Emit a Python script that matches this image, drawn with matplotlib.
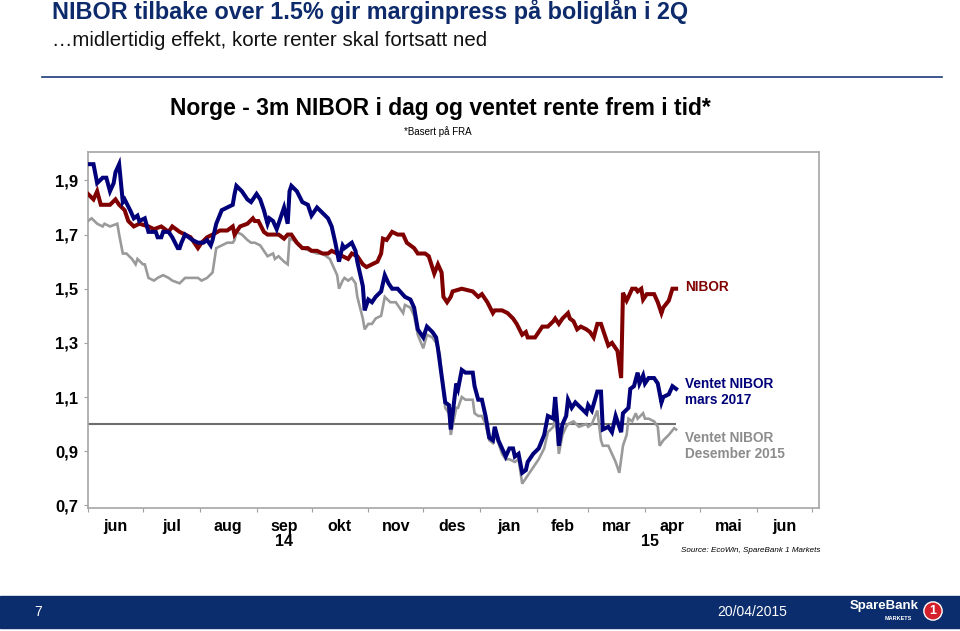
import matplotlib
matplotlib.use("Agg")
import matplotlib.pyplot as plt
import pandas as pd
from matplotlib.ticker import FuncFormatter

START = pd.Timestamp("2014-06-01")

# 3m NIBOR (dager etter 1. juni 2014, prosent)
nibor_dag = [0, 3, 5, 7, 9, 12, 15, 17, 20, 22, 25, 28, 33, 36, 40, 44, 46, 50, 53, 56,
             60, 62, 65, 68, 72, 76, 79, 80, 83, 87, 90, 91, 93, 96, 98, 101, 104, 107, 109, 111,
             114, 117, 120, 122, 125, 128, 131, 133, 136, 139, 142, 144, 147, 150, 152, 155, 158, 160, 161, 163,
             166, 169, 172, 174, 178, 180, 184, 186, 189, 191, 193, 194, 196, 198, 199, 204, 210, 213, 215, 218,
             221, 222, 226, 229, 232, 234, 237, 239, 240, 244, 246, 248, 251, 254, 255, 257, 259, 262, 263, 265,
             267, 269, 272, 274, 276, 278, 280, 281, 284, 286, 289, 291, 292, 294, 295, 297, 299, 300, 302, 303,
             305, 309, 311, 313, 314, 317, 319, 321]
nibor = [1.85, 1.83, 1.86, 1.81, 1.81, 1.81, 1.83, 1.81, 1.79, 1.75, 1.73, 1.74, 1.73, 1.72, 1.73, 1.71, 1.73, 1.71, 1.70, 1.69,
         1.65, 1.67, 1.69, 1.70, 1.715, 1.715, 1.73, 1.70, 1.73, 1.74, 1.76, 1.75, 1.75, 1.71, 1.70, 1.70, 1.70, 1.685, 1.70, 1.70,
         1.67, 1.65, 1.65, 1.64, 1.64, 1.63, 1.63, 1.64, 1.63, 1.62, 1.61, 1.63, 1.62, 1.59, 1.58, 1.59, 1.60, 1.63, 1.685, 1.68,
         1.71, 1.70, 1.70, 1.67, 1.65, 1.63, 1.63, 1.62, 1.556, 1.59, 1.56, 1.47, 1.45, 1.47, 1.49, 1.50, 1.49, 1.47, 1.48, 1.45,
         1.41, 1.42, 1.42, 1.41, 1.39, 1.37, 1.33, 1.34, 1.32, 1.32, 1.34, 1.36, 1.36, 1.38, 1.39, 1.37, 1.39, 1.41, 1.39, 1.38,
         1.35, 1.36, 1.35, 1.34, 1.32, 1.37, 1.37, 1.35, 1.29, 1.30, 1.27, 1.17, 1.485, 1.456, 1.47, 1.50, 1.50, 1.49, 1.50, 1.46,
         1.48, 1.48, 1.45, 1.41, 1.43, 1.456, 1.50, 1.50]

# Ventet NIBOR mars 2017 (basert på FRA)
mars17_dag = [0, 3, 5, 8, 10, 12, 14, 15, 17, 19, 20, 23, 25, 27, 28, 31, 33, 37, 38, 40,
              41, 44, 46, 49, 50, 51, 53, 57, 60, 63, 65, 67, 68, 70, 73, 76, 79, 80, 81, 84,
              87, 89, 90, 92, 94, 96, 98, 99, 101, 103, 105, 107, 109, 110, 111, 114, 117, 120, 122, 125,
              128, 131, 133, 135, 137, 139, 140, 142, 144, 146, 147, 150, 151, 153, 155, 157, 160, 162, 164, 166,
              169, 173, 176, 178, 180, 181, 183, 185, 188, 190, 191, 193, 195, 197, 198, 201, 202, 204, 206, 210,
              211, 213, 215, 217, 219, 221, 222, 224, 226, 228, 230, 232, 233, 235, 237, 239, 240, 243, 246, 249,
              251, 254, 255, 256, 257, 259, 261, 262, 264, 266, 269, 272, 273, 275, 278, 280, 281, 284, 286, 288,
              291, 292, 295, 296, 298, 300, 301, 303, 304, 306, 309, 311, 313, 314, 317, 319, 321]
mars17 = [1.96, 1.96, 1.89, 1.91, 1.91, 1.86, 1.89, 1.93, 1.96, 1.82, 1.83, 1.79, 1.76, 1.77, 1.75, 1.76, 1.71, 1.71, 1.69, 1.69,
          1.71, 1.71, 1.69, 1.65, 1.65, 1.67, 1.70, 1.68, 1.67, 1.67, 1.68, 1.66, 1.68, 1.74, 1.79, 1.80, 1.81, 1.85, 1.88, 1.86,
          1.83, 1.82, 1.83, 1.85, 1.83, 1.79, 1.74, 1.76, 1.75, 1.72, 1.76, 1.80, 1.74, 1.86, 1.88, 1.86, 1.82, 1.81, 1.77, 1.80,
          1.78, 1.76, 1.73, 1.67, 1.60, 1.66, 1.65, 1.66, 1.67, 1.64, 1.60, 1.51, 1.42, 1.46, 1.45, 1.47, 1.49, 1.55, 1.52, 1.50,
          1.50, 1.47, 1.46, 1.43, 1.35, 1.34, 1.32, 1.36, 1.34, 1.32, 1.28, 1.18, 1.08, 1.07, 0.98, 1.15, 1.13, 1.20, 1.19, 1.19,
          1.14, 1.09, 1.09, 1.03, 0.95, 0.94, 0.99, 0.94, 0.91, 0.88, 0.91, 0.91, 0.88, 0.89, 0.82, 0.83, 0.86, 0.89, 0.91, 0.96,
          1.03, 1.02, 1.10, 1.02, 0.92, 1.00, 1.03, 1.09, 1.06, 1.08, 1.06, 1.04, 1.07, 1.05, 1.12, 1.12, 0.98, 0.99, 0.97, 1.03,
          0.97, 1.04, 1.06, 1.13, 1.14, 1.19, 1.15, 1.18, 1.15, 1.17, 1.17, 1.15, 1.08, 1.10, 1.11, 1.14, 1.13]

# Ventet NIBOR desember 2015
des15_dag = [0, 2, 5, 8, 9, 12, 16, 17, 19, 21, 24, 26, 27, 30, 31, 33, 36, 38, 41, 44,
             46, 50, 53, 60, 62, 65, 68, 70, 73, 76, 79, 80, 81, 84, 87, 89, 91, 94, 97, 98,
             101, 102, 104, 107, 109, 110, 112, 115, 117, 121, 125, 128, 132, 134, 136, 137, 139, 140, 142, 144,
             146, 147, 150, 151, 153, 155, 157, 160, 162, 165, 168, 170, 172, 173, 176, 178, 180, 183, 185, 188,
             190, 192, 193, 195, 197, 198, 201, 202, 204, 206, 210, 211, 213, 215, 217, 219, 221, 222, 224, 226,
             228, 230, 233, 235, 237, 239, 240, 243, 246, 249, 251, 254, 255, 256, 257, 259, 261, 262, 265, 268,
             272, 273, 275, 278, 280, 281, 284, 286, 288, 290, 292, 294, 295, 297, 299, 300, 303, 304, 306, 309,
             311, 312, 314, 317, 320, 321]
des15 = [1.75, 1.76, 1.74, 1.73, 1.74, 1.73, 1.74, 1.70, 1.63, 1.63, 1.61, 1.59, 1.61, 1.59, 1.59, 1.54, 1.53, 1.54, 1.55, 1.54,
         1.53, 1.52, 1.54, 1.54, 1.53, 1.54, 1.56, 1.65, 1.66, 1.67, 1.67, 1.68, 1.71, 1.70, 1.68, 1.67, 1.67, 1.66, 1.63, 1.62,
         1.63, 1.61, 1.62, 1.60, 1.59, 1.685, 1.68, 1.66, 1.65, 1.64, 1.63, 1.63, 1.61, 1.58, 1.55, 1.50, 1.53, 1.54, 1.53, 1.54,
         1.52, 1.47, 1.39, 1.35, 1.37, 1.37, 1.39, 1.40, 1.47, 1.45, 1.45, 1.43, 1.41, 1.44, 1.43, 1.40, 1.33, 1.28, 1.33, 1.32,
         1.30, 1.26, 1.18, 1.06, 1.04, 0.96, 1.06, 1.06, 1.10, 1.09, 1.09, 1.04, 1.03, 1.03, 1.00, 0.94, 0.93, 0.96, 0.93, 0.89,
         0.87, 0.87, 0.86, 0.87, 0.78, 0.80, 0.81, 0.84, 0.87, 0.91, 0.97, 0.99, 1.03, 0.97, 0.89, 0.96, 0.99, 1.00, 1.01, 0.99,
         1.00, 0.99, 1.00, 1.05, 0.94, 0.92, 0.92, 0.89, 0.86, 0.82, 0.92, 0.96, 1.02, 1.01, 1.04, 1.02, 1.04, 1.02, 1.02, 1.01,
         0.99, 0.92, 0.94, 0.96, 0.985, 0.98]

referanse = 1.0
maaneder = ["jun", "jul", "aug", "sep", "okt", "nov", "des", "jan", "feb", "mar", "apr", "mai", "jun"]
y_ticks = [0.7, 0.9, 1.1, 1.3, 1.5, 1.7, 1.9]

BLA = "#00007a"
ROD = "#800000"
GRA = "#9a9a9a"
MORK = "#0b2d6e"

ARIAL = ["Liberation Sans", "DejaVu Sans"]
plt.rcParams["font.family"] = ARIAL


def datoer(dager):
    return START + pd.to_timedelta(dager, unit="D")


fig = plt.figure(figsize=(9.6, 6.31), dpi=100)
ax = fig.add_axes([88 / 960, 1 - 508 / 631, (819 - 88) / 960, (508 - 152) / 631])

ax.plot(datoer(des15_dag), des15, color=GRA, lw=1.9, solid_joinstyle="miter", zorder=3)
ax.plot(datoer(nibor_dag), nibor, color=ROD, lw=2.9, solid_joinstyle="miter", zorder=4)
ax.plot(datoer(mars17_dag), mars17, color=BLA, lw=2.9, solid_joinstyle="miter", zorder=5)
ax.hlines(referanse, datoer(mars17_dag)[0], datoer(mars17_dag)[-1], color="#6e6e6e", lw=1.5, zorder=2)

starter = pd.date_range("2014-06-01", "2015-07-01", freq="MS")
midt = starter[:-1] + (starter[1:] - starter[:-1]) / 2
ax.set_xlim(START, pd.Timestamp("2015-07-05"))
ax.set_ylim(0.69, 2.005)

ax.set_xticks(starter)
ax.set_xticklabels([])
ax.set_xticks(midt, minor=True)
ax.set_xticklabels(maaneder, minor=True, fontweight="bold", fontsize=11.5)
ax.tick_params(axis="x", which="major", direction="out", length=3, color="#a0a0a0")
ax.tick_params(axis="x", which="minor", length=0, pad=8)

ax.set_yticks(y_ticks)
ax.yaxis.set_major_formatter(FuncFormatter(lambda v, p: f"{v:.1f}".replace(".", ",")))
for lab in ax.get_yticklabels():
    lab.set_fontweight("bold")
    lab.set_fontsize(12)
ax.tick_params(axis="y", direction="out", length=3, color="#a0a0a0", pad=4)

for s in ax.spines.values():
    s.set_color("#a6a6a6")
    s.set_linewidth(1.2)

# årstall under månedene
xt = ax.get_xaxis_transform()
ax.text(pd.Timestamp("2014-09-16"), -0.095, "14", transform=xt, ha="center", va="center",
        fontweight="bold", fontsize=11.5)
ax.text(pd.Timestamp("2015-04-04"), -0.095, "15", transform=xt, ha="center", va="center",
        fontweight="bold", fontsize=11.5)

# serienavn til høyre
lx = pd.Timestamp("2015-04-23")
ax.text(lx, 1.507, "NIBOR", color=ROD, fontweight="bold", fontsize=9.8, va="center")
ax.text(lx, 1.118, "Ventet NIBOR\nmars 2017", color=BLA, fontweight="bold", fontsize=9.8,
        va="center", linespacing=1.2)
ax.text(lx, 0.918, "Ventet NIBOR\nDesember 2015", color="#8c8c8c", fontweight="bold", fontsize=9.8,
        va="center", linespacing=1.2)

# tittel over diagrammet
fig.text(440 / 960, 1 - 108 / 631, "Norge - 3m NIBOR i dag og ventet rente frem i tid*",
         ha="center", va="center", fontweight="bold", fontsize=16.5)
fig.text(438 / 960, 1 - 132 / 631, "*Basert på FRA", ha="center", va="center", fontsize=7)
fig.text(820 / 960, 1 - 551 / 631, "Source: EcoWin, SpareBank 1 Markets", ha="right", va="center",
         fontsize=5.8, style="italic")

# lysbildetittel
fig.text(52 / 960, 1 - 12 / 631, "NIBOR tilbake over 1.5% gir marginpress på boliglån i 2Q",
         ha="left", va="center", fontweight="bold", fontsize=16.8, color="#0d2a6b")
fig.text(52 / 960, 1 - 41 / 631, "\u2026midlertidig effekt, korte renter skal fortsatt ned",
         ha="left", va="center", fontsize=14.8, color="#111111")
fig.add_artist(plt.Line2D([42 / 960, 942 / 960], [1 - 77 / 631] * 2, color="#1f3b7a", lw=1.2))

# bunnlinje
fig.add_artist(plt.Rectangle((0, 1 - 628 / 631), 1, 32 / 631, color=MORK, transform=fig.transFigure))
fig.text(38 / 960, 1 - 612 / 631, "7", color="white", fontsize=10, va="center", ha="center")
fig.text(752 / 960, 1 - 612 / 631, "20/04/2015", color="white", fontsize=10, va="center", ha="center")
fig.text(884 / 960, 1 - 606 / 631, "SpareBank", color="white", fontsize=9.5, fontweight="bold",
         va="center", ha="center")
fig.text(898 / 960, 1 - 618 / 631, "MARKETS", color="white", fontsize=4, fontweight="bold",
         va="center", ha="center")
fig.text(933 / 960, 1 - 611 / 631, "1", color="white", fontsize=9, fontweight="bold", va="center",
         ha="center", bbox=dict(boxstyle="circle,pad=0.25", fc="#d4202a", ec="white", lw=1))

fig.savefig("out.png", dpi=100)
